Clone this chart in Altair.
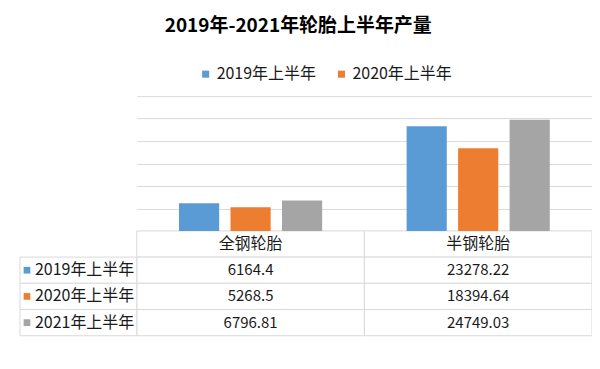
import altair as alt
import pandas as pd

# ---- data ----
categories = ["全钢轮胎", "半钢轮胎"]
years = ["2019年上半年", "2020年上半年", "2021年上半年"]
values_2019 = [6164.4, 23278.22]
values_2020 = [5268.5, 18394.64]
values_2021 = [6796.81, 24749.03]
labels_2019 = ["6164.4", "23278.22"]
labels_2020 = ["5268.5", "18394.64"]
labels_2021 = ["6796.81", "24749.03"]
legend_years = ["2019年上半年", "2020年上半年"]
grid_values = [0, 5000, 10000, 15000, 20000, 25000, 30000]
colors = ["#5B9BD5", "#ED7D31", "#A5A5A5"]
header_key = "表头"
title_text = "2019年-2021年轮胎上半年产量"

FONT = "Noto Sans CJK SC"
BORDER = "#d9d9d9"
TEXT = "#1a1a1a"

rows = []
for y, vals, labs in zip(years, [values_2019, values_2020, values_2021],
                         [labels_2019, labels_2020, labels_2021]):
    for c, v, l in zip(categories, vals, labs):
        rows.append({"cat": c, "year": y, "value": v, "label": l, "row": y})
bars_df = pd.DataFrame(rows)

cells_df = pd.DataFrame([{"cat": c, "row": r} for r in [header_key] + years for c in categories])
header_df = pd.DataFrame([{"cat": c, "row": header_key} for c in categories])
rowlab_df = pd.DataFrame([{"year": y, "row": y} for y in years])

x_enc = alt.X("cat:N", sort=categories,
              scale=alt.Scale(domain=categories, paddingInner=0, paddingOuter=0),
              axis=None)
row_scale = alt.Scale(domain=[header_key] + years, range=[135, 240],
                      paddingInner=0, paddingOuter=0)
y_row = alt.Y("row:N", scale=row_scale, axis=None)
color_scale = alt.Scale(domain=years, range=colors)

bars = alt.Chart(bars_df).mark_bar().encode(
    x=x_enc,
    xOffset=alt.XOffset("year:N", sort=years,
                        scale=alt.Scale(domain=years, paddingInner=0.22, paddingOuter=0.82)),
    y=alt.Y("value:Q",
            scale=alt.Scale(domain=[0, 30000], range=[135, 0]),
            axis=alt.Axis(values=grid_values, grid=True, gridColor=BORDER, labels=False,
                          ticks=False, domain=False, title=None)),
    color=alt.Color("year:N", scale=color_scale,
                    legend=alt.Legend(values=legend_years, title=None, orient="none",
                                      direction="horizontal", legendX=61, legendY=-30,
                                      symbolType="square", symbolSize=50,
                                      symbolStrokeWidth=0, labelFont=FONT,
                                      labelFontSize=16, labelColor=TEXT,
                                      columnPadding=17, labelOffset=3, padding=0)),
)

cells = alt.Chart(cells_df).mark_rect(fill="white", stroke=BORDER, strokeWidth=1).encode(
    x=x_enc, y=y_row)

rowcells = alt.Chart(rowlab_df).mark_rect(fill="white", stroke=BORDER, strokeWidth=1).encode(
    x=alt.value(-117), x2=alt.value(0), y=y_row)

value_text = alt.Chart(bars_df).mark_text(font=FONT, fontSize=15, color=TEXT).encode(
    x=x_enc, y=y_row, text="label:N")

header_text = alt.Chart(header_df).mark_text(font=FONT, fontSize=16, color=TEXT).encode(
    x=x_enc, y=y_row, text="cat:N")

row_text = alt.Chart(rowlab_df).mark_text(font=FONT, fontSize=16, color=TEXT,
                                          align="left").encode(
    x=alt.value(-102), y=y_row, text="row:N")

squares = alt.Chart(rowlab_df).mark_point(shape="square", filled=True, size=45,
                                          opacity=1).encode(
    x=alt.value(-110), y=y_row,
    color=alt.Color("year:N", scale=color_scale, legend=None))

chart = alt.layer(cells, rowcells, bars, value_text, header_text, row_text, squares).resolve_scale(
    y="independent"
).properties(
    width=456, height=240,
    title=alt.TitleParams(title_text, font=FONT, fontSize=19, fontWeight="bold",
                          color="#000000", anchor="start", frame="group", dx=28,
                          offset=30),
    autosize=alt.AutoSizeParams(type="none"),
    padding={"left": 129, "top": 88, "right": 0, "bottom": 20},
    background="white",
).configure_view(stroke=None)

chart.save("out.html", embed_options={"renderer": "svg", "actions": False})
